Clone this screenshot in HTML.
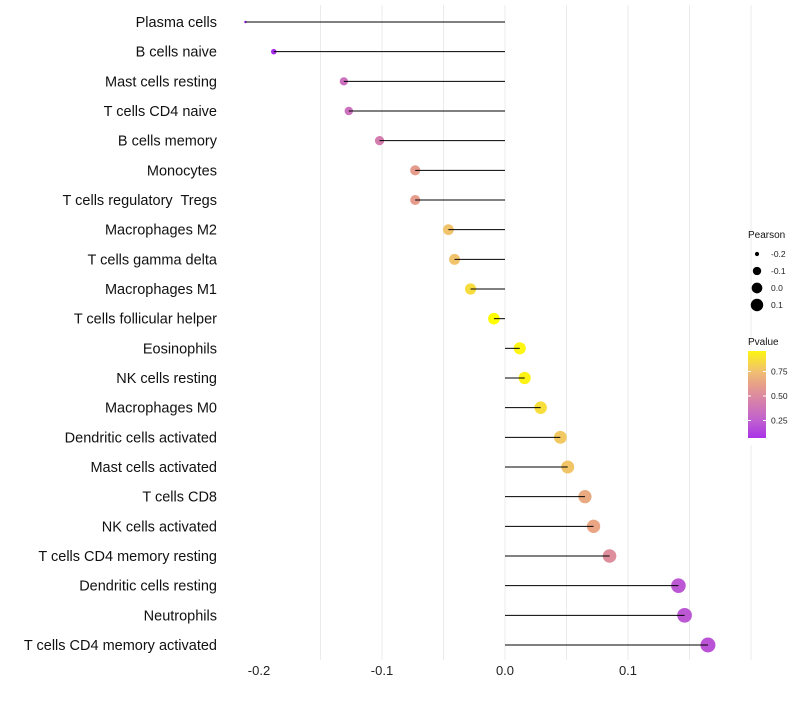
<!DOCTYPE html>
<html><head><meta charset="utf-8"><style>
body{margin:0;background:#fff;font-family:"Liberation Sans",sans-serif;}
</style></head><body>
<svg id="chart" width="800" height="700" xmlns="http://www.w3.org/2000/svg" font-family="Liberation Sans, sans-serif"></svg>
<script>
const categories=["Plasma cells","B cells naive","Mast cells resting","T cells CD4 naive","B cells memory","Monocytes","T cells regulatory  Tregs","Macrophages M2","T cells gamma delta","Macrophages M1","T cells follicular helper","Eosinophils","NK cells resting","Macrophages M0","Dendritic cells activated","Mast cells activated","T cells CD8","NK cells activated","T cells CD4 memory resting","Dendritic cells resting","Neutrophils","T cells CD4 memory activated"];
const pearson=[-0.211,-0.188,-0.131,-0.127,-0.102,-0.073,-0.073,-0.046,-0.041,-0.028,-0.009,0.012,0.016,0.029,0.045,0.051,0.065,0.072,0.085,0.141,0.146,0.165];
const pvalue=[0.02,0.05,0.35,0.35,0.42,0.6,0.6,0.76,0.76,0.86,1.0,0.96,0.95,0.87,0.78,0.77,0.66,0.64,0.52,0.22,0.22,0.2];
const xTicks=[-0.2,-0.1,0.0,0.1];
const xTickLabels=["-0.2","-0.1","0.0","0.1"];
const sizeLegend=[-0.2,-0.1,0.0,0.1];
const colorTicks=[0.75,0.5,0.25];

const svg=document.getElementById('chart');
const NS="http://www.w3.org/2000/svg";
function mk(tag,attrs,parent){const e=document.createElementNS(NS,tag);for(const k in attrs)e.setAttribute(k,attrs[k]);(parent||svg).appendChild(e);return e;}
const xs=v=>505+v*1230;
const ys=i=>22+i*(623/21);
const pMin=Math.min(...pearson),pMax=Math.max(...pearson);
const rs=v=>{const t=Math.max(0,Math.min(1,(v-pMin)/(pMax-pMin)));return 1.25*(1+5*Math.sqrt(t));};
const stops=[[0,[160,32,240]],[0.25,[192,96,208]],[0.5,[220,138,160]],[0.62,[232,160,136]],[0.75,[240,192,112]],[1,[255,255,0]]];
function col(p){for(let i=1;i<stops.length;i++){if(p<=stops[i][0]){const [a,ca]=stops[i-1],[b,cb]=stops[i];const t=(p-a)/(b-a);
 return `rgb(${ca.map((x,j)=>Math.round(x+(cb[j]-x)*t)).join(',')})`;}}return 'rgb(255,255,0)';}

for(let k=-3;k<=4;k++){const l=mk('line',{x1:xs(k*0.05),x2:xs(k*0.05),y1:5,y2:660,stroke:'#ebebeb','stroke-width':1});
}
xTicks.forEach((t,i)=>{const tx=mk('text',{x:xs(t),y:675,'text-anchor':'middle','font-size':13,fill:'#222'});tx.textContent=xTickLabels[i];
});

categories.forEach((c,i)=>{
 const y=ys(i);
 const t=mk('text',{x:217,y:y+5,'text-anchor':'end','font-size':14.5,fill:'#111',style:'white-space:pre'});t.textContent=c;
 
 const p=mk('circle',{cx:xs(pearson[i]),cy:y,r:rs(pearson[i]),fill:col(pvalue[i])});
 
 const l=mk('line',{x1:xs(0),x2:xs(pearson[i]),y1:y,y2:y,stroke:'#000','stroke-width':1});
 
});

const st=mk('text',{x:748,y:238,'font-size':10,fill:'#111'});st.textContent='Pearson';

sizeLegend.forEach((v,i)=>{const y=254+i*17;
 const c=mk('circle',{cx:757,cy:y,r:rs(v)*0.9,fill:'#000'});
 const t=mk('text',{x:771,y:y+3,'font-size':8.5,fill:'#222'});t.textContent=xTickLabels[i];
 });

const ct=mk('text',{x:748,y:345,'font-size':10,fill:'#111'});ct.textContent='Pvalue';

const defs=mk('defs',{});const g=mk('linearGradient',{id:'pg',x1:0,y1:1,x2:0,y2:0},defs);
stops.forEach(s=>mk('stop',{offset:s[0],'stop-color':col(s[0])},g));
const cy=v=>445-v*98;
const bar=mk('rect',{x:748,y:cy(1),width:18,height:98,fill:'url(#pg)'});

mk('rect',{x:748,y:cy(1),width:18,height:4,fill:'#fff'});mk('rect',{x:748,y:cy(0)-7,width:18,height:7,fill:'#fff'});
colorTicks.forEach(v=>{mk('line',{x1:748,x2:751,y1:cy(v),y2:cy(v),stroke:'#fff'});mk('line',{x1:763,x2:766,y1:cy(v),y2:cy(v),stroke:'#fff'});
 const t=mk('text',{x:771,y:cy(v)+3,'font-size':8.5,fill:'#222'});t.textContent=v.toFixed(2);
 });
</script>
</body></html>
